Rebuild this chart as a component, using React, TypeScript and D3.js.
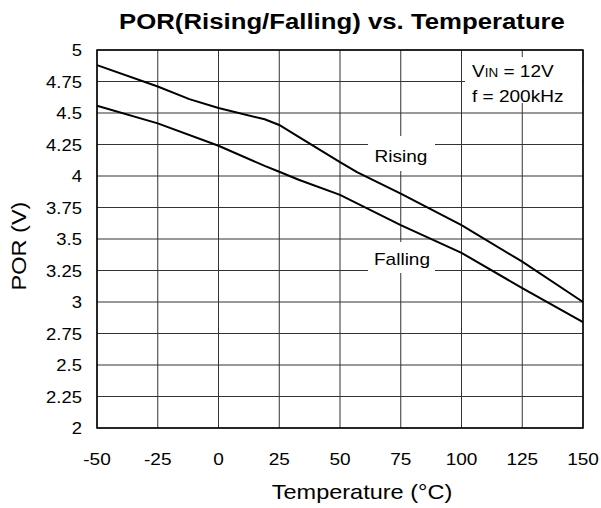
import React from "react";
import * as d3 from "d3";

const temps = [-50, -25, -12, 0, 19, 25, 33, 50, 57, 75, 100, 125, 150];
const rising = [4.88, 4.71, 4.61, 4.54, 4.45, 4.405, 4.31, 4.11, 4.03, 3.86, 3.61, 3.32, 3.0];
const fallingT = [-50, -25, 0, 19, 25, 33, 50, 75, 100, 125, 150];
const falling = [4.558, 4.418, 4.24, 4.08, 4.034, 3.97, 3.85, 3.61, 3.39, 3.11, 2.84];
const xTicks = [-50, -25, 0, 25, 50, 75, 100, 125, 150];
const yTicks = [5, 4.75, 4.5, 4.25, 4, 3.75, 3.5, 3.25, 3, 2.75, 2.5, 2.25, 2];
const yTickLabels = ["5", "4.75", "4.5", "4.25", "4", "3.75", "3.5", "3.25", "3", "2.75", "2.5", "2.25", "2"];

const W = 601, H = 508;
const L = 97, R = 583, T = 50, B = 428;
const font = "Liberation Sans, Arial, sans-serif";
const SX = 1.12;

function Txt(props: { x: number; y: number; size: number; anchor?: string; bold?: boolean; rot?: number; children: React.ReactNode }) {
  const { x, y, size, anchor = "start", bold, rot = 0, children } = props;
  return (
    <text
      transform={`translate(${x},${y})${rot ? ` rotate(${rot})` : ""} scale(${SX},1)`}
      textAnchor={anchor}
      fontSize={size}
      fontWeight={bold ? "bold" : "normal"}
      fill="#000"
    >
      {children}
    </text>
  );
}

export default function App() {
  const x = d3.scaleLinear().domain([-50, 150]).range([L, R]);
  const y = d3.scaleLinear().domain([2, 5]).range([B, T]);
  const line = d3.line<[number, number]>().x(d => x(d[0])).y(d => y(d[1]));
  const rPts = temps.map((t, i) => [t, rising[i]] as [number, number]);
  const fPts = fallingT.map((t, i) => [t, falling[i]] as [number, number]);
  return (
    <svg width={W} height={H} style={{ position: "absolute", left: 0, top: 0 }} fontFamily={font}>
      <rect x={0} y={0} width={W} height={H} fill="#fff" />
      <Txt x={342} y={29} size={23} anchor="middle" bold>POR(Rising/Falling) vs. Temperature</Txt>
      {xTicks.map(t => (
        <line key={"gx" + t} x1={x(t)} x2={x(t)} y1={T} y2={B} stroke="#333" strokeWidth={1} />
      ))}
      {yTicks.map(v => (
        <line key={"gy" + v} x1={L} x2={R} y1={y(v)} y2={y(v)} stroke="#333" strokeWidth={1} />
      ))}
      <rect x={465} y={57} width={117} height={46} fill="#fff" />
      <rect x={368} y={136} width={67} height={35} fill="#fff" />
      <rect x={368} y={242} width={67} height={31} fill="#fff" />
      <path d={line(rPts) || ""} fill="none" stroke="#000" strokeWidth={2} />
      <path d={line(fPts) || ""} fill="none" stroke="#000" strokeWidth={2} />
      <rect x={L} y={T} width={R - L} height={B - T} fill="none" stroke="#000" strokeWidth={1.5} />
      <Txt x={472} y={77} size={17}>V<tspan fontSize={12}>IN</tspan> = 12V</Txt>
      <Txt x={472} y={102} size={17}>f = 200kHz</Txt>
      <Txt x={401} y={162} size={17} anchor="middle">Rising</Txt>
      <Txt x={402} y={265} size={17} anchor="middle">Falling</Txt>
      {xTicks.map(t => (
        <Txt key={"tx" + t} x={x(t)} y={465} size={17} anchor="middle">{t}</Txt>
      ))}
      {yTicks.map((v, i) => (
        <Txt key={"ty" + v} x={82} y={y(v) + 6} size={16.5} anchor="end">{yTickLabels[i]}</Txt>
      ))}
      <Txt x={362} y={499} size={21} anchor="middle">Temperature (°C)</Txt>
      <Txt x={26} y={246} size={21} anchor="middle" rot={-90}>POR (V)</Txt>
    </svg>
  );
}
